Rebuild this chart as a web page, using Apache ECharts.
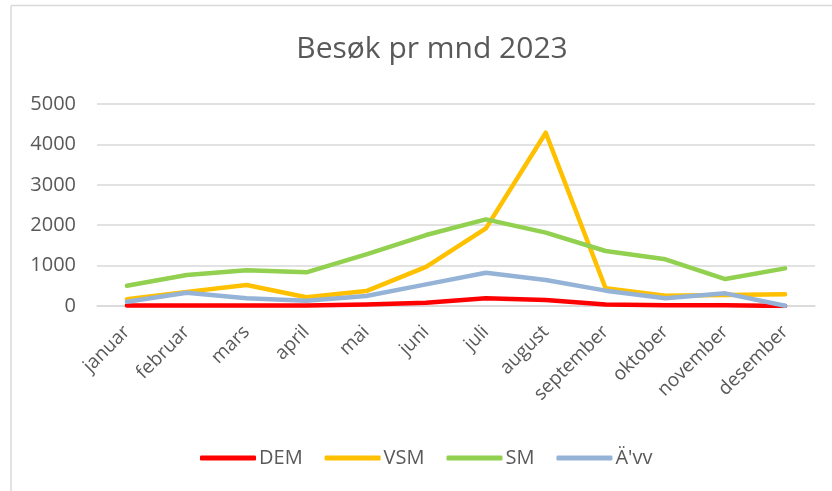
<!DOCTYPE html>
<html>
<head>
<meta charset="utf-8">
<script src="https://cdn.jsdelivr.net/npm/echarts@6/dist/echarts.min.js"></script>
<style>
html,body{margin:0;padding:0;background:#fff;}
#c{width:832px;height:491px;}
</style>
</head>
<body>
<div id="c"></div>
<script>
const categories = ['januar','februar','mars','april','mai','juni','juli','august','september','oktober','november','desember'];
const demValues = [10, 10, 10, 10, 40, 80, 190, 150, 40, 20, 20, 0];
const vsmValues = [165, 350, 520, 215, 370, 970, 1920, 4290, 440, 256, 272, 289];
const smValues = [503, 767, 883, 833, 1279, 1757, 2145, 1815, 1361, 1155, 668, 932];
const avvValues = [107, 330, 190, 132, 248, 536, 825, 643, 380, 190, 313, 8];
const yTicks = [0, 1000, 2000, 3000, 4000, 5000];

const font = '"Open Sans", "Noto Sans", sans-serif';
const txt = '#595959';
const chart = echarts.init(document.getElementById('c'), null, {renderer: 'canvas'});
function line(name, data, color) {
  return {
    name: name, type: 'line', data: data, symbol: 'none', smooth: false,
    lineStyle: {color: color, width: 4.5, cap: 'round', join: 'round'},
    itemStyle: {color: color}
  };
}
chart.setOption({
  animation: false,
  backgroundColor: '#fff',
  title: {
    text: 'Besøk pr mnd 2023', left: 427, textAlign: 'center', top: 29,
    textStyle: {fontFamily: font, fontSize: 30, fontWeight: 'normal', color: txt}
  },
  grid: {left: 97, right: 17, top: 104, bottom: 185, containLabel: false},
  legend: {
    left: 195, top: 443, itemWidth: 56, itemHeight: 5, itemGap: 22,
    icon: 'roundRect',
    textStyle: {fontFamily: font, fontSize: 20, color: txt, padding: [0, 0, 0, -2]},
    data: ['DEM', 'VSM', 'SM', "Ä'vv"]
  },
  xAxis: {
    type: 'category', data: categories, boundaryGap: true,
    axisLine: {lineStyle: {color: '#d9d9d9', width: 1.5}},
    axisTick: {show: false},
    axisLabel: {rotate: 45, fontFamily: font, fontSize: 19, color: txt, margin: 23, interval: 0}
  },
  yAxis: {
    type: 'value', min: yTicks[0], max: yTicks[yTicks.length - 1], interval: 1000,
    axisLine: {show: false}, axisTick: {show: false},
    splitLine: {lineStyle: {color: '#d9d9d9', width: 1.5}},
    axisLabel: {fontFamily: font, fontSize: 20, color: txt, margin: 21, formatter: function (v) { return String(v); }}
  },
  graphic: [
    {type: 'line', shape: {x1: 11, y1: 5.5, x2: 832, y2: 5.5}, style: {stroke: '#d9d9d9', lineWidth: 1.5}},
    {type: 'line', shape: {x1: 11, y1: 5.5, x2: 11, y2: 491}, style: {stroke: '#d9d9d9', lineWidth: 1.5}}
  ],
  series: [
    line('DEM', demValues, '#ff0000'),
    line('VSM', vsmValues, '#ffc000'),
    line('SM', smValues, '#92d050'),
    line("Ä'vv", avvValues, '#95b3d7')
  ]
});
</script>
</body>
</html>
